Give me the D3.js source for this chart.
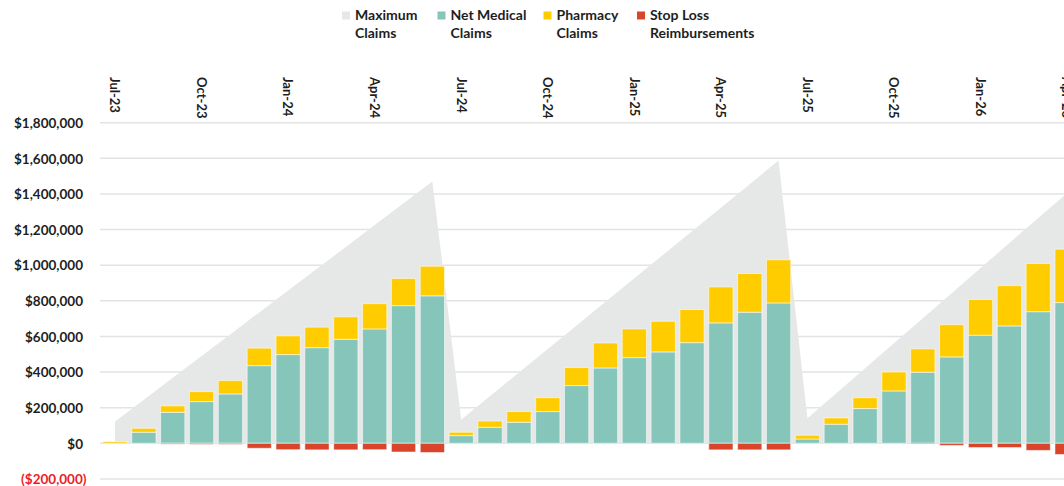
<!DOCTYPE html>
<html>
<head>
<meta charset="utf-8">
<script src="https://cdn.jsdelivr.net/npm/d3@7/dist/d3.min.js"></script>
<style>
  html, body { margin: 0; padding: 0; background: #fff; }
  svg { display: block; }
  text { font-family: Lato, "Open Sans", sans-serif; font-weight: 700; fill: #1e1e1e; }
</style>
</head>
<body>
<svg id="chart" width="1064" height="486"></svg>
<script>
const months = ["Jul-23","Aug-23","Sep-23","Oct-23","Nov-23","Dec-23","Jan-24","Feb-24","Mar-24","Apr-24","May-24","Jun-24",
  "Jul-24","Aug-24","Sep-24","Oct-24","Nov-24","Dec-24","Jan-25","Feb-25","Mar-25","Apr-25","May-25","Jun-25",
  "Jul-25","Aug-25","Sep-25","Oct-25","Nov-25","Dec-25","Jan-26","Feb-26","Mar-26","Apr-26"];
const tickLabels = ["Jul-23","Oct-23","Jan-24","Apr-24","Jul-24","Oct-24","Jan-25","Apr-25","Jul-25","Oct-25","Jan-26","Apr-26"];
const yTicks = [-200000, 0, 200000, 400000, 600000, 800000, 1000000, 1200000, 1400000, 1600000, 1800000];

const maximumClaims = [122500, 245000, 367500, 490000, 612500, 735000, 857500, 980000, 1102500, 1225000, 1347500, 1470000,
  132000, 265000, 397000, 529000, 662000, 794000, 926000, 1058000, 1191000, 1323000, 1455000, 1588000,
  140500, 281000, 421500, 562000, 702500, 843000, 983500, 1124000, 1264500, 1405000];
const netMedical = [0, 62000, 174000, 234000, 277000, 436000, 498000, 537000, 584000, 642000, 773000, 828000,
  43000, 90000, 118000, 178000, 324000, 423000, 481000, 513000, 565000, 676000, 736000, 788000,
  24000, 107000, 195000, 294000, 399000, 485000, 607000, 659000, 739000, 790000];
const pharmacy = [9000, 22000, 36000, 56000, 75000, 98000, 105000, 115000, 126000, 142000, 152000, 166000,
  19000, 35000, 60000, 78000, 101000, 140000, 161000, 172000, 186000, 202000, 217000, 242000,
  21000, 35000, 61000, 106000, 131000, 181000, 200000, 226000, 270000, 300000];
const stopLoss = [0, 0, -5000, -6000, -6000, -28000, -36000, -37000, -37000, -36000, -49000, -52000,
  0, 0, 0, 0, 0, 0, 0, 0, 0, -37000, -37000, -37000,
  0, 0, 0, 0, -4000, -12000, -24000, -24000, -40000, -63000];

const legendItems = [
  {lines: ["Maximum", "Claims"], color: "#e6e7e7"},
  {lines: ["Net Medical", "Claims"], color: "#86c6ba"},
  {lines: ["Pharmacy", "Claims"], color: "#ffcc00"},
  {lines: ["Stop Loss", "Reimbursements"], color: "#d9442a"}
];

const svg = d3.select("#chart");
const step = 28.85;
const x0 = 100.6;
const x = d3.scaleBand().domain(months).range([x0, x0 + months.length * step]).paddingInner(0.16).paddingOuter(0.08);
const y = d3.scaleLinear().domain([-200000, 1800000]).range([478.9, 122.7]);
const cx = d => x(d) + x.bandwidth() / 2;

// gridlines
svg.append("g").selectAll("line").data(yTicks).join("line")
  .attr("x1", 100).attr("x2", 1064)
  .attr("y1", d => y(d)).attr("y2", d => y(d))
  .attr("stroke", "#e3e3e3").attr("stroke-width", 1.5);

// maximum claims area
const area = d3.area().x((d, i) => cx(months[i])).y0(y(0)).y1(d => y(d));
svg.append("path").datum(maximumClaims).attr("d", area).attr("fill", "#e6e7e7");

// bars
const barG = svg.append("g");
const rows = months.map((m, i) => ({m, med: netMedical[i], ph: pharmacy[i], sl: stopLoss[i]}));
const strokeCol = "rgba(255,255,255,0.55)";
barG.selectAll(".med").data(rows.filter(r => r.med > 0)).join("rect")
  .attr("x", r => x(r.m)).attr("width", x.bandwidth())
  .attr("y", r => y(r.med)).attr("height", r => y(0) - y(r.med))
  .attr("fill", "#86c6ba").attr("stroke", strokeCol).attr("stroke-width", 1);
barG.selectAll(".ph").data(rows.filter(r => r.ph > 0)).join("rect")
  .attr("x", r => x(r.m)).attr("width", x.bandwidth())
  .attr("y", r => y(r.med + r.ph)).attr("height", r => y(r.med) - y(r.med + r.ph))
  .attr("fill", "#ffcc00").attr("stroke", strokeCol).attr("stroke-width", 1);
barG.selectAll(".sl").data(rows.filter(r => r.sl < 0)).join("rect")
  .attr("x", r => x(r.m)).attr("width", x.bandwidth())
  .attr("y", y(0)).attr("height", r => y(r.sl) - y(0))
  .attr("fill", "#d9442a").attr("stroke", strokeCol).attr("stroke-width", 1);

// y axis
const fmt = d => d < 0 ? "($" + d3.format(",")(-d) + ")" : "$" + d3.format(",")(d);
const yAxis = svg.append("g").attr("transform", "translate(83,0)")
  .call(d3.axisLeft(y).tickValues(yTicks).tickFormat(fmt).tickSize(0).tickPadding(0));
yAxis.select(".domain").remove();
yAxis.selectAll("text")
  .attr("font-size", 13.5).attr("font-family", "Lato, sans-serif").attr("font-weight", 700)
  .attr("x", d => d < 0 ? 3.5 : 0)
  .attr("dy", "0.35em")
  .style("fill", d => d < 0 ? "#ee1c25" : "#1e1e1e");

// x axis (top, rotated labels)
const xAxis = svg.append("g").attr("transform", "translate(0,77)")
  .call(d3.axisTop(x).tickValues(tickLabels).tickSize(0).tickPadding(0));
xAxis.select(".domain").remove();
xAxis.selectAll("text")
  .attr("font-size", 13).attr("font-family", "Lato, sans-serif").attr("font-weight", 700)
  .attr("x", 0).attr("y", 0).attr("dy", "0.36em")
  .attr("transform", "rotate(90)")
  .style("text-anchor", "start")
  .style("fill", "#1e1e1e");

// legend
const legendX = [342, 437.5, 543.5, 637];
const lg = svg.append("g").selectAll("g").data(legendItems).join("g")
  .attr("transform", (d, i) => `translate(${legendX[i]},0)`);
lg.append("rect").attr("x", 0).attr("y", 11.5).attr("width", 8).attr("height", 8).attr("fill", d => d.color);
lg.append("text").attr("x", 13).attr("y", 20).attr("font-size", 14)
  .text(d => d.lines[0]);
lg.append("text").attr("x", 13).attr("y", 38).attr("font-size", 14)
  .text(d => d.lines[1]);
</script>
</body>
</html>
